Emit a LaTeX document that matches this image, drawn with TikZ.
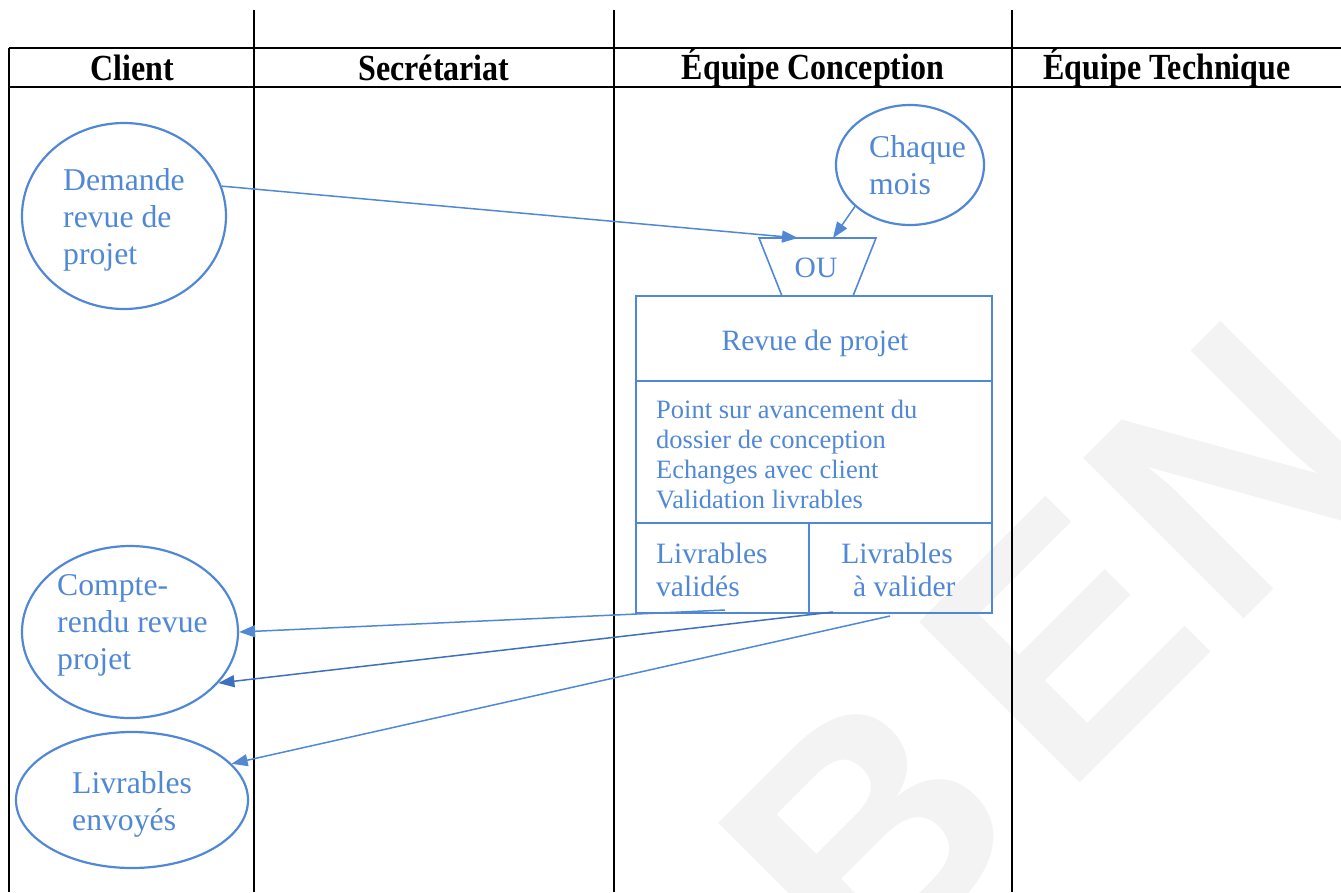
\documentclass[tikz,border=0pt]{standalone}
\usepackage{fontspec}
\setmainfont{Liberation Serif}
\newfontfamily\wmfont{Liberation Sans}
\usetikzlibrary{arrows.meta,shapes.geometric}
\definecolor{bl}{RGB}{80,136,214}
\definecolor{bldark}{RGB}{62,112,190}
\definecolor{wm}{RGB}{243,243,243}
\begin{document}
\begin{tikzpicture}[x=1pt,y=-1pt,
  lane/.style={line width=2pt,black},
  hdr/.style={font=\fontsize{32}{36}\selectfont\bfseries, yscale=1.15, text=black},
  oval/.style={ellipse,draw=bl,line width=2.2pt,inner sep=0pt},
  cell/.style={draw=bl,line width=1.6pt,inner sep=0pt},
  txt/.style={text=bl,inner sep=0pt},
  conn/.style={draw=bl,line width=1.5pt,-{Triangle[length=16pt,width=12pt]}},
  big/.style={font=\fontsize{31.7}{37}\selectfont},
  mid/.style={font=\fontsize{29.5}{33}\selectfont},
  small/.style={font=\fontsize{26.5}{30}\selectfont}
]
\useasboundingbox (0,0) rectangle (1341,892);
% watermark
\begin{scope}
\clip (0,0) rectangle (1341,892);
\node[rotate=45,text=wm,font=\wmfont\bfseries\fontsize{330}{330}\selectfont,inner sep=0pt] (wmark) at (1050,652) {B\kern46pt E\kern12pt N};
\end{scope}
% lanes
\draw[lane] (9,48) -- (1341,48);
\draw[lane] (9,87) -- (1341,87);
\draw[lane] (9,48) -- (9,892);
\draw[lane] (254,10) -- (254,892);
\draw[lane] (614,10) -- (614,892);
\draw[lane] (1012,10) -- (1012,892);
\node[hdr] (h1) at (132,68) {Client};
\node[hdr] (h2) at (434,68) {Secrétariat};
\node[hdr] (h3) at (813,68) {Équipe Conception};
\node[hdr] (h4) at (1167,68) {Équipe Technique};
% ellipses
\node[oval,minimum width=204pt,minimum height=186pt] (dem) at (124,216) {};
\node[txt,big,align=left,anchor=west] (demt) at (63,220) {Demande\\revue de\\projet};
\node[oval,minimum width=148pt,minimum height=120pt] (cm) at (910,165) {};
\node[txt,big,align=left,anchor=west] (cmt) at (869,165) {Chaque\\mois};
\node[oval,minimum width=216pt,minimum height=172pt] (cr) at (130,632) {};
\node[txt,big,align=left,anchor=west] (crt) at (57,625) {Compte-\\rendu revue\\projet};
\node[oval,minimum width=232pt,minimum height=136pt] (le) at (132,800) {};
\node[txt,big,align=left,anchor=west] (let) at (72,804) {Livrables\\envoyés};
% OU trapezoid
\draw[bl,line width=1.6pt] (759,238) -- (876,238) -- (853,296) -- (782,296) -- cycle;
\node[txt,mid] (ou) at (816,268) {OU};
\coordinate (ouA) at (798,238);
\coordinate (ouB) at (833,238);
% box
\node[cell,minimum width=356pt,minimum height=85pt] (rp) at (814,338.5) {};
\node[txt,mid] (rpt) at (815,343) {Revue de projet};
\node[cell,minimum width=356pt,minimum height=142pt] (det) at (814,452) {};
\node[txt,small,align=left,anchor=west] (dett) at (656,454) {Point sur avancement du\\dossier de conception\\Echanges avec client\\Validation livrables};
\node[cell,minimum width=173pt,minimum height=90pt] (lv) at (722.5,568) {};
\node[txt,mid,align=left,anchor=west] (lvt) at (656,570) {Livrables\\validés};
\node[cell,minimum width=183pt,minimum height=90pt] (lav) at (900.5,568) {};
\node[txt,mid,align=center] (lavt) at (897,570) {Livrables\\\ \ à valider};
\coordinate (s1) at (725,610);
\coordinate (s2) at (833,612);
\coordinate (s3) at (890,616);
% connectors
\draw[conn] (dem.17) -- (ouA);
\draw[conn] (cm.217) -- (ouB);
\draw[conn] (s1) -- (cr.0);
\draw[conn,draw=bldark] (s2) -- (cr.-30);
\draw[conn] (s3) -- (le.20);
\end{tikzpicture}
\end{document}
